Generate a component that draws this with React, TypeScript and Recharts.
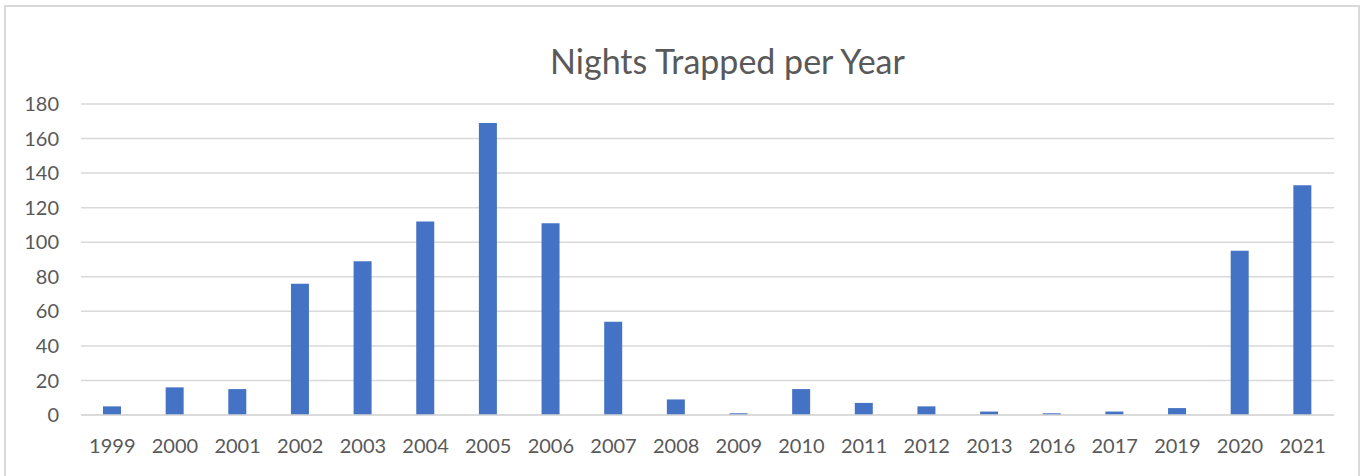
import React from 'react'
import { BarChart, Bar, XAxis, YAxis, CartesianGrid } from 'recharts'

const YEARS = ['1999', '2000', '2001', '2002', '2003', '2004', '2005', '2006', '2007', '2008', '2009', '2010', '2011', '2012', '2013', '2016', '2017', '2019', '2020', '2021']
const NIGHTS = [5, 16, 15, 76, 89, 112, 169, 111, 54, 9, 1, 15, 7, 5, 2, 1, 2, 4, 95, 133]
const Y_TICKS = [0, 20, 40, 60, 80, 100, 120, 140, 160, 180]

const FONT = 'Lato, "Open Sans", sans-serif'
const TEXT = '#595959'

const data = YEARS.map((year, i) => ({ year, nights: NIGHTS[i] }))

export default function App() {
  return (
    <div style={{ position: 'absolute', left: 0, top: 0, width: 1365, height: 476, background: '#fff', overflow: 'hidden' }}>
      <div
        style={{
          position: 'absolute',
          left: 4,
          top: 5,
          width: 1356,
          height: 480,
          border: '2px solid #d9d9d9',
          boxSizing: 'border-box',
        }}
      />
      <div
        style={{
          position: 'absolute',
          left: 0,
          width: 1455,
          top: 40,
          textAlign: 'center',
          fontFamily: FONT,
          fontSize: 34,
          color: TEXT,
        }}
      >
        Nights Trapped per Year
      </div>
      <div style={{ position: 'absolute', left: 0, top: 0 }}>
        <BarChart width={1365} height={476} data={data} margin={{ top: 104, right: 31, bottom: 0, left: 0 }} barSize={18}>
          <CartesianGrid vertical={false} stroke="#d9d9d9" strokeWidth={1.5} />
          <XAxis
            dataKey="year"
            height={61}
            axisLine={{ stroke: '#d9d9d9', strokeWidth: 1.5 }}
            tickLine={false}
            tickMargin={18}
            interval={0}
            tick={{ fill: TEXT, fontSize: 20, fontFamily: FONT }}
          />
          <YAxis
            width={81}
            domain={[0, 180]}
            ticks={Y_TICKS}
            axisLine={false}
            tickLine={false}
            tickSize={0}
            tickMargin={22}
            tick={{ fill: TEXT, fontSize: 20, fontFamily: FONT }}
          />
          <Bar dataKey="nights" fill="#4472c4" isAnimationActive={false} />
        </BarChart>
      </div>
    </div>
  )
}
